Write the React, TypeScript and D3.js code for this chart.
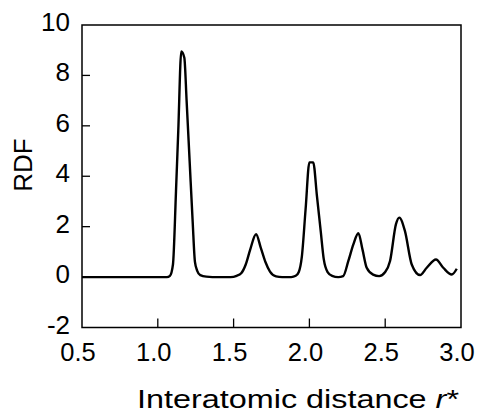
import React from "react";
import * as d3 from "d3";

const rValues = [
  0.5, 1.0, 1.06, 1.08, 1.1, 1.12, 1.135, 1.155, 1.175, 1.19, 1.21, 1.23, 1.245, 1.26, 1.28, 1.32, 1.4,
  1.48, 1.52, 1.55, 1.58, 1.61, 1.648, 1.68, 1.71, 1.74, 1.78, 1.82,
  1.88, 1.91, 1.93, 1.95, 1.975, 2.0, 2.025, 2.05, 2.075, 2.095, 2.12, 2.15,
  2.19, 2.223, 2.257, 2.29, 2.323, 2.35, 2.378, 2.42, 2.46,
  2.5, 2.532, 2.571, 2.593, 2.63, 2.675, 2.73,
  2.774, 2.835, 2.883, 2.939, 2.972,
];
const rdfValues = [
  0, 0, 0, 0.05, 0.5, 3.4, 5.8, 8.95, 8.7, 7.0, 4.6, 2.2, 0.6, 0.25, 0.08, 0.02, 0,
  0, 0.05, 0.15, 0.5, 1.1, 1.7, 1.15, 0.6, 0.22, 0.03, 0,
  0, 0.05, 0.2, 0.8, 2.7, 4.55, 4.55, 3.2, 1.8, 0.7, 0.2, 0.05,
  0, 0.04, 0.64, 1.3, 1.74, 1.1, 0.37, 0.1, 0.04,
  0.2, 0.64, 2.1, 2.36, 1.83, 0.5, 0.08,
  0.37, 0.7, 0.37, 0.1, 0.33,
];
const xTicks = [0.5, 1.0, 1.5, 2.0, 2.5, 3.0];
const yTicks = [-2, 0, 2, 4, 6, 8, 10];

const W = 477;
const H = 414;
const left = 82;
const right = 461;
const top = 25;
const bottom = 327.5;

export default function App() {
  const x = d3.scaleLinear().domain([0.5, 3.0]).range([left, right]);
  const y = d3.scaleLinear().domain([-2, 10]).range([bottom, top]);
  const pts: [number, number][] = rValues.map((r, i) => [r, rdfValues[i]]);
  const line = d3
    .line<[number, number]>()
    .x((d) => x(d[0]))
    .y((d) => y(d[1]))
    .curve(d3.curveMonotoneX);
  const font = "'Liberation Sans', Arial, sans-serif";
  return (
    <svg
      width={W}
      height={H}
      style={{ position: "absolute", left: 0, top: 0, background: "#fff" }}
      fontFamily={font}
    >
      <rect x={0} y={0} width={W} height={H} fill="#fff" />
      <rect
        x={left}
        y={top}
        width={right - left}
        height={bottom - top}
        fill="none"
        stroke="#000"
        strokeWidth={1.5}
      />
      {yTicks
        .filter((t) => t > -2 && t < 10)
        .map((t) => (
          <line key={"yt" + t} x1={left} x2={left + 8} y1={y(t)} y2={y(t)} stroke="#000" strokeWidth={1.3} />
        ))}
      {xTicks
        .filter((t) => t > 0.5 && t < 3.0)
        .map((t) => (
          <line key={"xt" + t} x1={x(t)} x2={x(t)} y1={bottom} y2={bottom - 9} stroke="#000" strokeWidth={1.3} />
        ))}
      {yTicks.map((t) => (
        <text key={"yl" + t} x={70} y={y(t) + 6} textAnchor="end" fontSize={26} fill="#000">
          {t}
        </text>
      ))}
      {xTicks.map((t) => (
        <text key={"xl" + t} x={x(t) - 4} y={361} textAnchor="middle" fontSize={25.5} fill="#000">
          {t.toFixed(1)}
        </text>
      ))}
      <path d={line(pts) || ""} fill="none" stroke="#000" strokeWidth={2.4} strokeLinejoin="round" />
      <text
        transform={`translate(32,165) rotate(-90)`}
        textAnchor="middle"
        fontSize={26}
        fill="#000"
      >
        RDF
      </text>
      <text x={137} y={408} fontSize={25} fill="#000" textLength={322} lengthAdjust="spacingAndGlyphs">
        Interatomic distance <tspan fontStyle="italic">r</tspan>*
      </text>
    </svg>
  );
}
